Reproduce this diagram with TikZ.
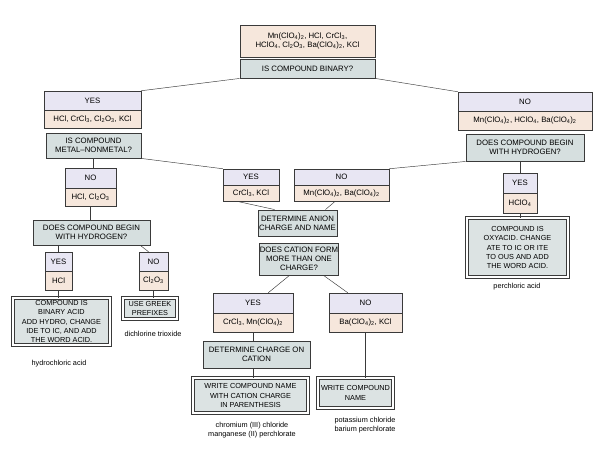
\documentclass[tikz,border=0pt]{standalone}
\usepackage{fontspec}
\setmainfont{Liberation Sans}
\definecolor{peach}{HTML}{F6E7DC}
\definecolor{lav}{HTML}{E8E6F3}
\definecolor{qfill}{HTML}{D6DFDF}
\definecolor{ffill}{HTML}{DCE3E3}
\definecolor{edge}{HTML}{3A3A3A}
\newcommand\ssb[1]{\textsubscript{#1}}
\newcommand\boxat[7]{%
  \node[#1, minimum width={(#5-#3)*1pt}, minimum height={(#6-#4)*1pt}] (#2) at ({(#3+#5)/2},{(#4+#6)/2}) {#7};}
\tikzset{
  base/.style={rectangle, inner sep=0pt, align=center, font=\fontsize{7.8}{9.3}\selectfont, draw=edge, line width=0.5pt},
  datbox/.style={base, fill=peach},
  headbox/.style={base, fill=lav},
  qbox/.style={base, fill=qfill, line width=0.9pt},
  finbox/.style={base, fill=ffill, draw=edge, double=white, double distance=1.7pt, line width=0.7pt, font=\fontsize{7.3}{9.3}\selectfont},
  conn/.style={draw=edge, line width=0.45pt},
  lbl/.style={font=\fontsize{7.3}{8.8}\selectfont, align=center, inner sep=0pt}
}
\begin{document}
\begin{tikzpicture}[x=1pt,y=-1pt]
\useasboundingbox[fill=white] (0,0) rectangle (600,450);
% top
\boxat{datbox}{top}{240}{25}{375}{57}{Mn(ClO\ssb{4})\ssb{2}, HCl, CrCl\ssb{3},\\HClO\ssb{4}, Cl\ssb{2}O\ssb{3}, Ba(ClO\ssb{4})\ssb{2}, KCl}
\boxat{qbox}{q1}{240}{59}{375}{78}{IS COMPOUND BINARY?}
% level 1
\boxat{headbox}{yesL}{44}{91}{141}{110}{YES}
\boxat{datbox}{yesLd}{44}{110}{141}{128}{HCl, CrCl\ssb{3}, Cl\ssb{2}O\ssb{3}, KCl}
\boxat{qbox}{q2}{46}{133}{141}{158}{IS COMPOUND\\METAL--NONMETAL?}
\boxat{headbox}{noR}{458}{92}{592}{111}{NO}
\boxat{datbox}{noRd}{458}{111}{592}{130}{Mn(ClO\ssb{4})\ssb{2}, HClO\ssb{4}, Ba(ClO\ssb{4})\ssb{2}}
\boxat{qbox}{q3}{466}{134}{584}{161}{DOES COMPOUND BEGIN\\WITH HYDROGEN?}
% level 2
\boxat{headbox}{noL}{65}{168}{116}{188}{NO}
\boxat{datbox}{noLd}{65}{188}{116}{206}{HCl, Cl\ssb{2}O\ssb{3}}
\boxat{headbox}{yesM}{223}{169}{279}{185}{YES}
\boxat{datbox}{yesMd}{223}{185}{279}{201}{CrCl\ssb{3}, KCl}
\boxat{headbox}{noM}{294}{169}{389}{185}{NO}
\boxat{datbox}{noMd}{294}{185}{389}{201}{Mn(ClO\ssb{4})\ssb{2}, Ba(ClO\ssb{4})\ssb{2}}
\boxat{headbox}{yesR}{503}{173}{537}{193}{YES}
\boxat{datbox}{yesRd}{503}{193}{537}{213}{HClO\ssb{4}}
\boxat{finbox}{f3}{467}{218}{568}{277}{COMPOUND IS\\OXYACID. CHANGE\\ATE TO IC OR ITE\\TO OUS AND ADD\\THE WORD ACID.}
\node[lbl] (l3) at (517,287) {perchloric acid};
% left branch
\boxat{qbox}{q4}{33}{220}{150}{245}{DOES COMPOUND BEGIN\\WITH HYDROGEN?}
\boxat{headbox}{yesLL}{45}{252}{72}{271}{YES}
\boxat{datbox}{yesLLd}{45}{271}{72}{290}{HCl}
\boxat{headbox}{noLL}{139}{252}{168}{271}{NO}
\boxat{datbox}{noLLd}{139}{271}{168}{290}{Cl\ssb{2}O\ssb{3}}
\boxat{finbox}{f1}{13}{298}{110}{345}{COMPOUND IS\\BINARY ACID\\ADD HYDRO, CHANGE\\IDE TO IC, AND ADD\\THE WORD ACID.}
\node[lbl] (l1) at (59,364) {hydrochloric acid};
\boxat{finbox}{f2}{123}{298}{177}{319}{USE GREEK\\PREFIXES}
\node[lbl] (l2) at (153,334) {dichlorine trioxide};
% middle branch
\boxat{qbox}{q5}{258}{210}{337}{236}{DETERMINE ANION\\CHARGE AND NAME}
\boxat{qbox}{q6}{260}{243}{338}{275}{DOES CATION FORM\\MORE THAN ONE\\CHARGE?}
\boxat{headbox}{yesM2}{213}{293}{293}{313}{YES}
\boxat{datbox}{yesM2d}{213}{313}{293}{332}{CrCl\ssb{3}, Mn(ClO\ssb{4})\ssb{2}}
\boxat{headbox}{noM2}{329}{293}{402}{313}{NO}
\boxat{datbox}{noM2d}{329}{313}{402}{332}{Ba(ClO\ssb{4})\ssb{2}, KCl}
\boxat{qbox}{q7}{203}{341}{310}{368}{DETERMINE CHARGE ON\\CATION}
\boxat{finbox}{f4}{193}{378}{308}{413}{WRITE COMPOUND NAME\\WITH CATION CHARGE\\IN PARENTHESIS}
\boxat{finbox}{f5}{318}{378}{393}{408}{WRITE COMPOUND\\NAME}
\node[lbl] (l4) at (252,430) {chromium (III) chloride\\manganese (II) perchlorate};
\node[lbl] (l5) at (365,425) {potassium chloride\\barium perchlorate};
% connectors
\draw[conn] (q1.south west) -- (yesL.north east);
\draw[conn] (q1.south east) -- (noR.north west);
\draw[conn] (q2.south) -- (noL.north -| q2.south);
\draw[conn] (q2.south east) -- (yesM.north west);
\draw[conn] (q3.south west) -- (noM.north east);
\draw[conn] (yesR.north) -- (yesR.north |- q3.south);
\draw[conn] (yesRd.south) -- (f3.north -| yesRd.south);
\draw[conn] (noLd.south) -- (q4.north -| noLd.south);
\draw[conn] (yesLL.north) -- (yesLL.north |- q4.south);
\draw[conn] ([xshift=-10pt]q4.south east) -- ([xshift=-5pt]noLL.north);
\draw[conn] (yesLLd.south) -- (f1.north -| yesLLd.south);
\draw[conn] (noLLd.south) -- (f2.north -| noLLd.south);
\draw[conn] ([xshift=14pt]yesMd.south west) -- ([xshift=17pt]q5.north west);
\draw[conn] ([xshift=-54pt]noMd.south east) -- ([xshift=-12pt]q5.north east);
\draw[conn] ([xshift=30pt]q6.south west) -- ([xshift=-25pt]yesM2.north east);
\draw[conn] ([xshift=-15pt]q6.south east) -- ([xshift=19pt]noM2.north west);
\draw[conn] (yesM2d.south) -- (q7.north -| yesM2d.south);
\draw[conn] (q7.south -| yesM2d.south) -- (f4.north -| yesM2d.south);
\draw[conn] (noM2d.south) -- (f5.north -| noM2d.south);
\end{tikzpicture}
\end{document}
